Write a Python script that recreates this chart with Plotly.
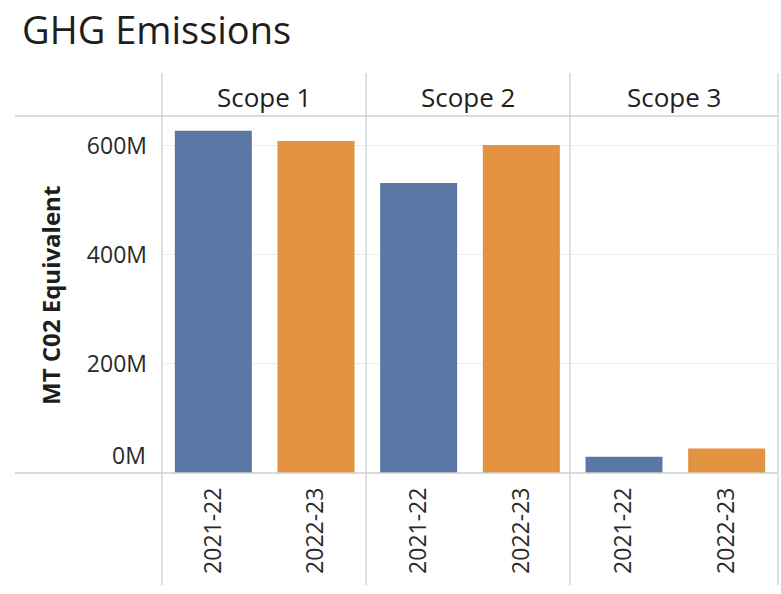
import plotly.graph_objects as go
from plotly.subplots import make_subplots

# Emissions by scope and reporting year (MT CO2 equivalent)
scopes = ["Scope 1", "Scope 2", "Scope 3"]
years = ["2021-22", "2022-23"]
emissions_2021_22 = [628e6, 532e6, 30e6]
emissions_2022_23 = [609e6, 602e6, 45e6]

y_tick_vals = [0, 200e6, 400e6, 600e6]
y_tick_text = ["0M", "200M", "400M", "600M"]

BLUE = "#5a77a5"
ORANGE = "#e3923f"
LINE = "#cfcfcf"
GRID = "#eeeeee"
FONT = "Open Sans"
TEXT = "#2a2a2a"

W, H = 781, 594
ML, MR, MT, MB = 162, 3, 116, 121

fig = make_subplots(rows=1, cols=3, shared_yaxes=True, horizontal_spacing=0)

for i, scope in enumerate(scopes):
    vals = [emissions_2021_22[i], emissions_2022_23[i]]
    fig.add_trace(
        go.Bar(
            x=years,
            y=vals,
            marker=dict(color=[BLUE, ORANGE], line=dict(width=0)),
            width=0.75,
            showlegend=False,
            hovertemplate="%{x}: %{y:.3s}<extra>" + scope + "</extra>",
        ),
        row=1, col=i + 1,
    )
    fig.update_xaxes(
        tickangle=-90,
        tickfont=dict(family=FONT, size=23, color=TEXT),
        ticklabelstandoff=9,
        showgrid=False,
        showline=False,
        zeroline=False,
        range=[-0.5, 1.5],
        row=1, col=i + 1,
    )

# The baseline label is lifted above the axis line, so it is drawn separately
axis_tick_text = ["" if v == 0 else t for v, t in zip(y_tick_vals, y_tick_text)]

fig.update_yaxes(
    range=[0, 655e6],
    tickvals=y_tick_vals,
    ticktext=axis_tick_text,
    tickfont=dict(family=FONT, size=23, color=TEXT),
    ticklabelstandoff=14,
    showgrid=True,
    gridcolor=GRID,
    gridwidth=1,
    zeroline=False,
    showline=False,
)

# Panel dividers, header row and baseline, in pixel-derived paper coordinates
pw = W - ML - MR
ph = H - MT - MB


def px_x(x):
    return (x - ML) / pw


def px_y(y):
    return (H - MB - y) / ph


shapes = []
for xp in [162, 366, 570, 778]:
    shapes.append(dict(type="line", xref="paper", yref="paper",
                       x0=px_x(xp), x1=px_x(xp), y0=px_y(73), y1=px_y(585),
                       line=dict(color=LINE, width=1.3)))
for yp in [116, 473]:
    shapes.append(dict(type="line", xref="paper", yref="paper",
                       x0=px_x(15), x1=px_x(778), y0=px_y(yp), y1=px_y(yp),
                       line=dict(color=LINE, width=1.3)))

annotations = []
centers = [(162 + 366) / 2, (366 + 570) / 2, (570 + 778) / 2]
for scope, cx in zip(scopes, centers):
    annotations.append(dict(
        text=scope, xref="paper", yref="paper",
        x=px_x(cx), y=px_y(97), xanchor="center", yanchor="middle",
        showarrow=False, font=dict(family=FONT, size=26, color="#1e1e1e"),
    ))

annotations.append(dict(
    text=y_tick_text[0], xref="paper", yref="paper",
    x=px_x(148), y=px_y(455), xanchor="right", yanchor="middle",
    showarrow=False, font=dict(family=FONT, size=23, color=TEXT),
))

annotations.append(dict(
    text="<b>MT C02 Equivalent</b>", xref="paper", yref="paper",
    x=px_x(50), y=px_y(296), xanchor="center", yanchor="middle",
    textangle=-90, showarrow=False,
    font=dict(family=FONT, size=24, color="#1e1e1e"),
))

fig.update_layout(
    width=W, height=H,
    margin=dict(l=ML, r=MR, t=MT, b=MB),
    paper_bgcolor="white",
    plot_bgcolor="white",
    bargap=0.25,
    title=dict(
        text="GHG Emissions",
        x=22 / W, xanchor="left", xref="container",
        y=1 - 31 / H, yanchor="middle", yref="container",
        font=dict(family=FONT, size=38, color="#1e1e1e"),
    ),
    shapes=shapes,
    annotations=annotations,
)

fig.write_html("out.html")
